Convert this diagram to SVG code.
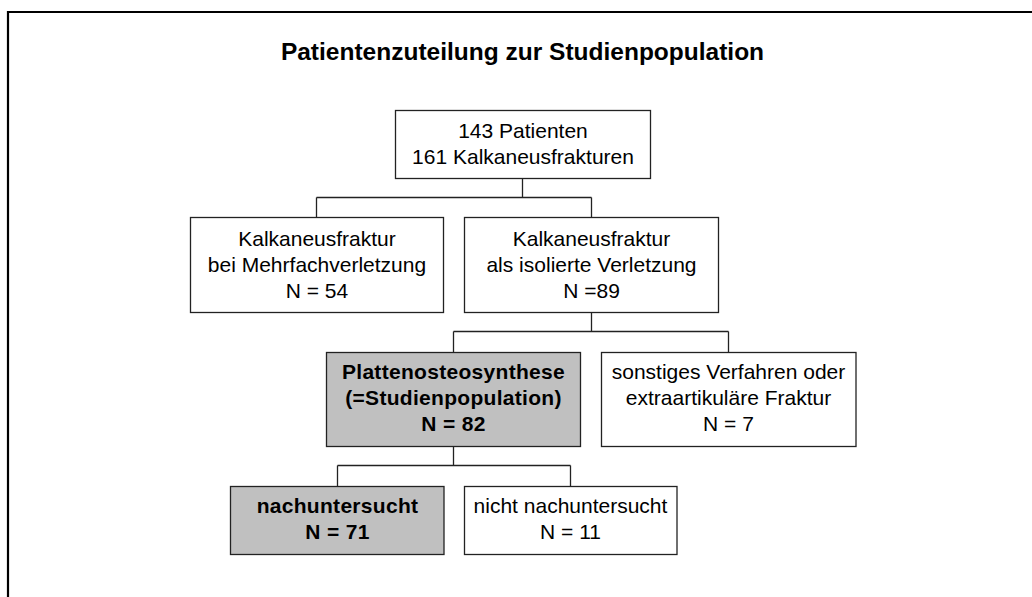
<svg xmlns="http://www.w3.org/2000/svg" width="1032" height="597" viewBox="0 0 1032 597">
<style>
.box{fill:#fff;stroke:#222;stroke-width:1.3}
.hl{fill:#c0c0c0;stroke:#222;stroke-width:1.3}
.t{font-family:"Liberation Sans",Arial,sans-serif;font-size:21px;fill:#000;text-anchor:middle}
.b{font-weight:bold;letter-spacing:0.3px}
.conn{fill:none;stroke:#222;stroke-width:1.3}
</style>
<rect width="1032" height="597" fill="#fff"/>
<path d="M8,597 V12 H1032" fill="none" stroke="#000" stroke-width="2.2"/>
<text x="522.5" y="60" font-family="'Liberation Sans',Arial,sans-serif" font-size="24.5" font-weight="bold" text-anchor="middle" fill="#000">Patientenzuteilung zur Studienpopulation</text>
<g id="connectors">
<path class="conn" d="M522.5,178 V197.5 M316.5,197.5 H591.5 M316.5,197.5 V217 M591.5,197.5 V217"/>
<path class="conn" d="M591.5,312 V331.5 M453.5,331.5 H728.5 M453.5,331.5 V352 M728.5,331.5 V352"/>
<path class="conn" d="M453.5,446 V465.5 M337.5,465.5 H570.5 M337.5,465.5 V486 M570.5,465.5 V486"/>
</g>
<g id="n-top">
<rect class="box" x="395.5" y="110.5" width="255" height="68"/>
<text class="t" x="523" y="138">143 Patienten</text>
<text class="t" x="523" y="164">161 Kalkaneusfrakturen</text>
</g>
<g id="n-mehrfach">
<rect class="box" x="190.5" y="217.5" width="253" height="95"/>
<text class="t" x="317" y="246">Kalkaneusfraktur</text>
<text class="t" x="317" y="272">bei Mehrfachverletzung</text>
<text class="t" x="317" y="298">N = 54</text>
</g>
<g id="n-isoliert">
<rect class="box" x="464.5" y="217.5" width="254" height="95"/>
<text class="t" x="591.5" y="246">Kalkaneusfraktur</text>
<text class="t" x="591.5" y="272">als isolierte Verletzung</text>
<text class="t" x="591.5" y="298">N =89</text>
</g>
<g id="n-platte">
<rect class="hl" x="326.5" y="352.5" width="254" height="94"/>
<text class="t b" x="453.5" y="379">Plattenosteosynthese</text>
<text class="t b" x="453.5" y="405">(=Studienpopulation)</text>
<text class="t b" x="453.5" y="431">N = 82</text>
</g>
<g id="n-sonstiges">
<rect class="box" x="601.5" y="352.5" width="254.5" height="94"/>
<text class="t" x="728.5" y="379">sonstiges Verfahren oder</text>
<text class="t" x="728.5" y="405">extraartikuläre Fraktur</text>
<text class="t" x="728.5" y="431">N = 7</text>
</g>
<g id="n-nachuntersucht">
<rect class="hl" x="230.5" y="486.5" width="213.5" height="68"/>
<text class="t b" x="337.5" y="513">nachuntersucht</text>
<text class="t b" x="337.5" y="539">N = 71</text>
</g>
<g id="n-nicht">
<rect class="box" x="464.5" y="486.5" width="212.5" height="68"/>
<text class="t" x="570.5" y="513">nicht nachuntersucht</text>
<text class="t" x="570.5" y="539">N = 11</text>
</g>
</svg>
